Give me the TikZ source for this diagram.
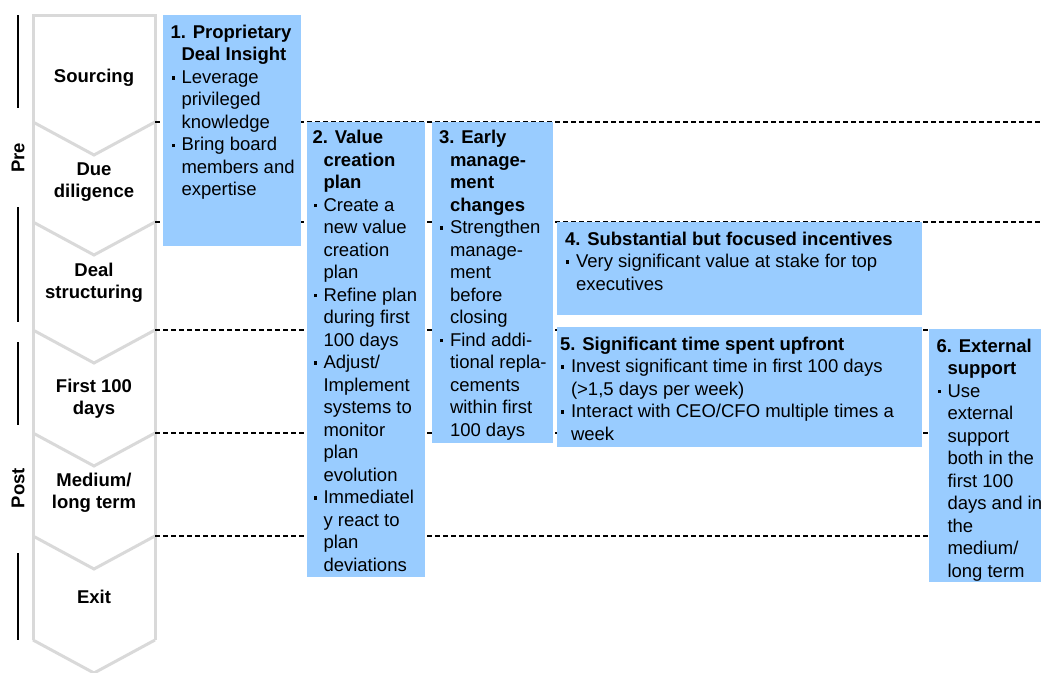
\documentclass[tikz,border=0pt]{standalone}
\usepackage{fontspec}
\setmainfont{Liberation Sans}
\definecolor{boxblue}{RGB}{153,204,255}
\definecolor{chevgrey}{RGB}{217,217,217}
% bullet with hanging indent, and the matching indent for continuation lines
\newcommand\bu{\makebox[11pt][l]{\hspace{1pt}\raisebox{3.8pt}{\rule{3.4pt}{3.4pt}}}}
\newcommand\hi{\hspace*{11pt}}
\newcommand\ts{\rule{0pt}{14pt}}
\begin{document}
\begin{tikzpicture}[x=1pt,y=-1pt,
  every node/.style={inner sep=0pt,outer sep=0pt},
  box/.style={fill=boxblue,anchor=north west},
  txt/.style={anchor=north west,align=left,font=\fontsize{18.5}{22.5}\selectfont},
  stage/.style={align=center,font=\fontsize{18.5}{22}\selectfont\bfseries},
  chev/.style={draw=chevgrey,line width=3pt,line join=miter},
  sep/.style={line width=1.3pt,dash pattern=on 5pt off 3pt},
  bar/.style={line width=2.5pt}]
\useasboundingbox (0,0) rectangle (1041,672);
\clip (0,0) rectangle (1041,672);

% phase column: stacked chevrons
\draw[chev] (33,640) -- (33,15) -- (155,15) -- (155,640);
\foreach \yb in {122,222,330,433,536,640}
  \draw[chev] (33,\yb) -- (94,\yb+33) -- (155,\yb);

% phase separators
\foreach \yb in {122,222,330,433,536}
  \draw[sep] (155,\yb) -- (1041,\yb);

% Pre / Post brackets
\draw[bar] (18,15) -- (18,108);
\draw[bar] (18,207) -- (18,322);
\draw[bar] (18,342) -- (18,425);
\draw[bar] (18,553) -- (18,640);
\node[rotate=90,font=\fontsize{18.5}{22}\selectfont\bfseries] (pre) at (18,158) {Pre};
\node[rotate=90,font=\fontsize{18.5}{22}\selectfont\bfseries] (post) at (18,488) {Post};

% phase names
\node[stage] (s1) at (94,78) {Sourcing};
\node[stage] (s2) at (94,182) {Due\\diligence};
\node[stage] (s3) at (94,283) {Deal\\structuring};
\node[stage] (s4) at (94,399) {First 100\\days};
\node[stage] (s5) at (94,493) {Medium/\\long term};
\node[stage] (s6) at (94,597) {Exit};

% lever boxes
\node[box,minimum width=138pt,minimum height=231pt] (b1) at (163,15) {};
\node[box,minimum width=118pt,minimum height=455pt] (b2) at (307,122) {};
\node[box,minimum width=121pt,minimum height=321pt] (b3) at (432,122) {};
\node[box,minimum width=365pt,minimum height=93pt] (b4) at (557,222) {};
\node[box,minimum width=365pt,minimum height=120pt] (b5) at (557,327) {};
\node[box,minimum width=130pt,minimum height=253pt] (b6) at (929,329) {};

\node[txt] (t1) at (170.5,24.3) {\ts\textbf{1. Proprietary}\\
\hi\textbf{Deal Insight}\\
\bu Leverage\\
\hi privileged\\
\hi knowledge\\
\bu Bring board\\
\hi members and\\
\hi expertise};

\node[txt] (t2) at (312.5,129.5) {\ts\textbf{2. Value}\\
\hi\textbf{creation}\\
\hi\textbf{plan}\\
\bu Create a\\
\hi new value\\
\hi creation\\
\hi plan\\
\bu Refine plan\\
\hi during first\\
\hi 100 days\\
\bu Adjust/\\
\hi Implement\\
\hi systems to\\
\hi monitor\\
\hi plan\\
\hi evolution\\
\bu Immediatel\\
\hi y react to\\
\hi plan\\
\hi deviations};

\node[txt] (t3) at (439,129.5) {\ts\textbf{3. Early}\\
\hi\textbf{manage-}\\
\hi\textbf{ment}\\
\hi\textbf{changes}\\
\bu Strengthen\\
\hi manage-\\
\hi ment\\
\hi before\\
\hi closing\\
\bu Find addi-\\
\hi tional repla-\\
\hi cements\\
\hi within first\\
\hi 100 days};

\node[txt] (t4) at (565,231) {\ts\textbf{4. Substantial but focused incentives}\\
\bu Very significant value at stake for top\\
\hi executives};

\node[txt] (t5) at (560,336) {\ts\textbf{5. Significant time spent upfront}\\
\bu Invest significant time in first 100 days\\
\hi (>1,5 days per week)\\
\bu Interact with CEO/CFO multiple times a\\
\hi week};

\node[txt] (t6) at (936.5,338) {\ts\textbf{6. External}\\
\hi\textbf{support}\\
\bu Use\\
\hi external\\
\hi support\\
\hi both in the\\
\hi first 100\\
\hi days and in\\
\hi the\\
\hi medium/\\
\hi long term};
\end{tikzpicture}
\end{document}
